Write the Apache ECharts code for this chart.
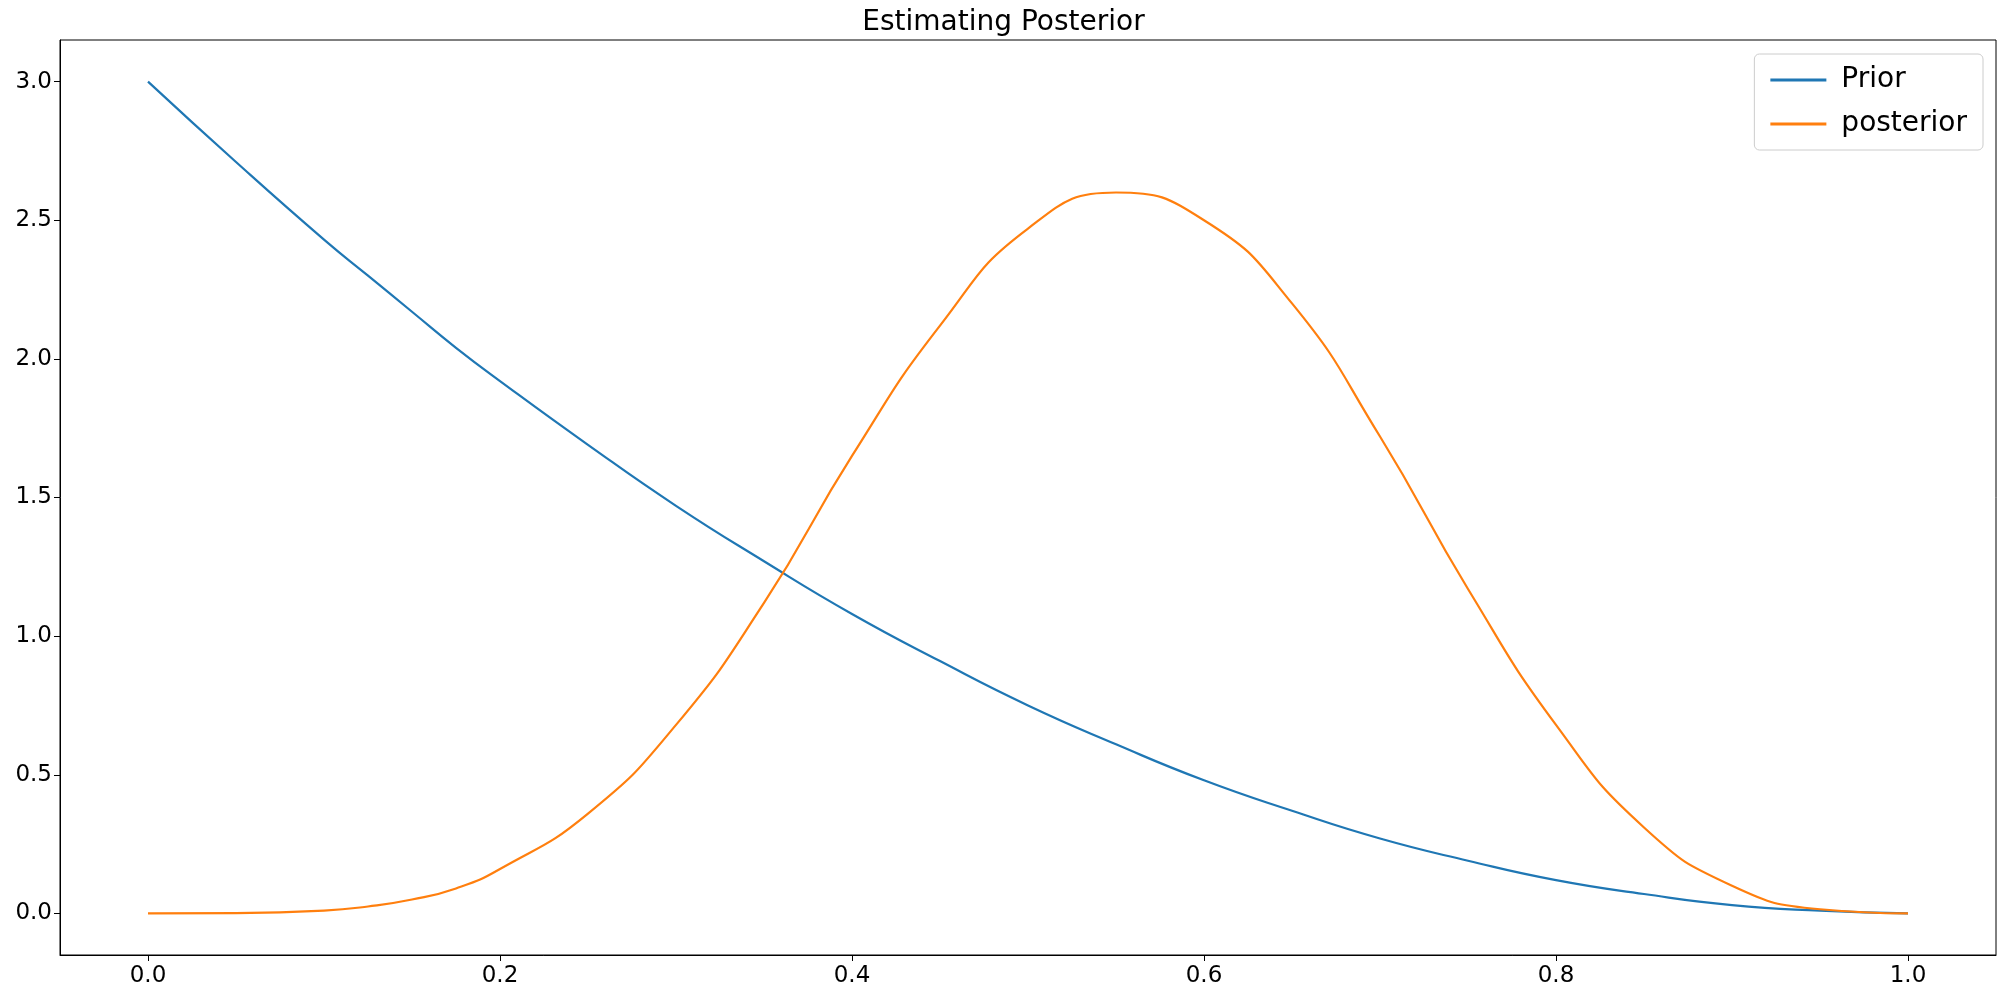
<!DOCTYPE html>
<html lang="en">
<head>
    <meta charset="UTF-8">
    <title>Estimating Posterior</title>
    <script src="https://cdn.jsdelivr.net/npm/echarts@6/dist/echarts.min.js"></script>
    <style>
        html, body { margin: 0; padding: 0; background: #fff; }
        #chart { width: 2007px; height: 1000px; }
    </style>
</head>
<body>
<div id="chart"></div>
<script type="text/javascript">
    // values
    var xs = [0, 0.05, 0.1, 0.125, 0.15, 0.175, 0.2, 0.25, 0.3, 0.35, 0.4, 0.45, 0.5, 0.55, 0.6, 0.65, 0.7, 0.75, 0.8, 0.85, 0.9, 0.95, 1.0];
    var prior = [3.0, 2.71, 2.43, 2.30, 2.17, 2.04, 1.92, 1.69, 1.47, 1.27, 1.08, 0.91, 0.75, 0.61, 0.48, 0.37, 0.27, 0.19, 0.12, 0.07, 0.03, 0.01, 0.0];
    var posterior = [0.0, 0.001, 0.01, 0.025, 0.05, 0.09, 0.16, 0.36, 0.68, 1.12, 1.65, 2.12, 2.47, 2.60, 2.50, 2.20, 1.72, 1.17, 0.68, 0.31, 0.10, 0.015, 0.0];
    var xTicks = [0.0, 0.2, 0.4, 0.6, 0.8, 1.0];
    var yTicks = [0.0, 0.5, 1.0, 1.5, 2.0, 2.5, 3.0];

    function pairs(ys) {
        var out = [];
        for (var i = 0; i < xs.length; i++) out.push([xs[i], ys[i]]);
        return out;
    }

    var chart = echarts.init(document.getElementById('chart'));
    var font = 'DejaVu Sans';
    chart.setOption({
        animation: false,
        title: {
            text: 'Estimating Posterior', left: 'center', top: 4,
            textStyle: { fontFamily: font, fontSize: 28, fontWeight: 'normal', color: '#000' }
        },
        legend: {
            right: 24, top: 54, orient: 'vertical', itemGap: 16,
            itemWidth: 56, itemHeight: 3, icon: 'rect',
            borderColor: '#ccc', borderWidth: 1, borderRadius: 5, padding: [12, 16],
            textStyle: { fontFamily: font, fontSize: 28, color: '#000', padding: [0, 0, 0, 10] },
            data: ['Prior', 'posterior']
        },
        grid: {
            left: 60, right: 11, top: 40, bottom: 45,
            show: true, borderColor: '#000', borderWidth: 1
        },
        xAxis: {
            type: 'value', min: -0.05, max: 1.05,
            splitLine: { show: false },
            axisLine: { onZero: false, lineStyle: { color: '#000' } },
            axisTick: { customValues: xTicks, length: 6, lineStyle: { color: '#000' } },
            axisLabel: {
                customValues: xTicks, fontFamily: font, fontSize: 23, color: '#000', margin: 10,
                formatter: function (v) { return v.toFixed(1); }
            }
        },
        yAxis: {
            type: 'value', min: -0.15, max: 3.15,
            splitLine: { show: false },
            axisLine: { show: true, onZero: false, lineStyle: { color: '#000' } },
            axisTick: { show: true, customValues: yTicks, length: 6, lineStyle: { color: '#000' } },
            axisLabel: {
                customValues: yTicks, fontFamily: font, fontSize: 23, color: '#000', margin: 8,
                formatter: function (v) { return v.toFixed(1); }
            }
        },
        series: [
            { name: 'Prior', type: 'line', data: pairs(prior), smooth: true, showSymbol: false,
              itemStyle: { color: '#1f77b4' }, lineStyle: { width: 2.2, color: '#1f77b4' } },
            { name: 'posterior', type: 'line', data: pairs(posterior), smooth: true, showSymbol: false,
              itemStyle: { color: '#ff7f0e' }, lineStyle: { width: 2.2, color: '#ff7f0e' } }
        ]
    });
</script>
</body>
</html>
